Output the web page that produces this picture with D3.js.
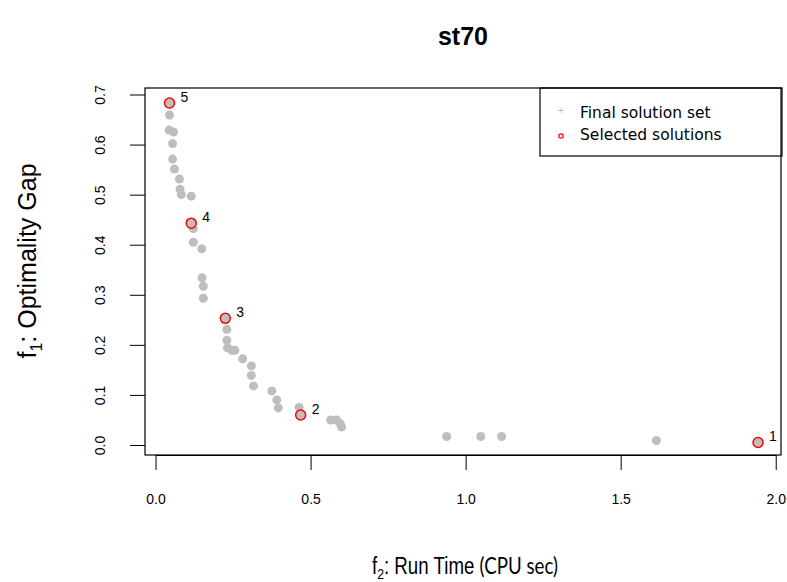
<!DOCTYPE html>
<svg width="787" height="582"></svg>
<script src="https://d3js.org/d3.v7.min.js"></script>
<style>
  body { margin: 0; background: #fff; }
  text { font-family: "Liberation Sans", Arial, sans-serif; }
  .box { fill: none; stroke: #000; stroke-width: 1.2px; }
</style>
<script>
// final solution set (f2 = run time, f1 = optimality gap)
var runTime = [0.045, 0.045, 0.044, 0.058, 0.055, 0.055, 0.061, 0.077, 0.079, 0.083, 0.115,
               0.115, 0.122, 0.122, 0.149, 0.150, 0.154, 0.154, 0.225, 0.230, 0.230, 0.232,
               0.246, 0.256, 0.281, 0.309, 0.309, 0.316, 0.375, 0.391, 0.396, 0.463, 0.468,
               0.565, 0.584, 0.595, 0.600, 0.939, 1.049, 1.116, 1.615, 1.943];
var optGap = [0.683, 0.659, 0.629, 0.625, 0.602, 0.571, 0.551, 0.531, 0.511, 0.500, 0.497,
              0.443, 0.432, 0.405, 0.392, 0.334, 0.317, 0.293, 0.253, 0.231, 0.209, 0.194,
              0.189, 0.189, 0.172, 0.158, 0.139, 0.118, 0.108, 0.090, 0.074, 0.075, 0.060,
              0.050, 0.050, 0.043, 0.036, 0.017, 0.017, 0.017, 0.009, 0.005];

// selected solutions
var selRunTime = [1.943, 0.468, 0.225, 0.115, 0.045];
var selOptGap  = [0.005, 0.060, 0.253, 0.443, 0.683];
var selLabels  = ["1", "2", "3", "4", "5"];

var xTicks = [0, 0.5, 1, 1.5, 2];
var yTicks = [0, 0.1, 0.2, 0.3, 0.4, 0.5, 0.6, 0.7];

var svg = d3.select("svg"),
    margin = {top: 88, right: 6, bottom: 127, left: 145},
    width = +svg.attr("width") - margin.left - margin.right,
    height = +svg.attr("height") - margin.top - margin.bottom,
    g = svg.append("g").attr("transform", "translate(" + margin.left + "," + margin.top + ")");

var x = d3.scaleLinear().domain([-0.034, 2.017]).range([0, width]);
var y = d3.scaleLinear().domain([-0.02, 0.713]).range([height, 0]);

// axes, R style: ticks outside, labels away from the box
var xAxis = g.append("g")
    .attr("transform", "translate(0," + height + ")")
    .call(d3.axisBottom(x).tickValues(xTicks).tickFormat(d3.format(".1f")).tickSize(15).tickPadding(24));
xAxis.select(".domain").attr("d", "M" + x(0) + ",0.5H" + x(2));
xAxis.selectAll("text").style("font-size", "14px").attr("fill", "#000");

var yAxis = g.append("g")
    .call(d3.axisLeft(y).tickValues(yTicks).tickFormat(d3.format(".1f")).tickSize(15).tickPadding(0));
yAxis.select(".domain").remove();
yAxis.selectAll("text")
    .style("font-size", "14px")
    .attr("fill", "#000")
    .attr("text-anchor", "middle")
    .attr("x", null).attr("dy", null)
    .attr("transform", "translate(-45,0) rotate(-90)")
    .attr("y", 5);

g.append("rect").attr("class", "box").attr("width", width).attr("height", height);

// final solution set
g.append("g").selectAll("circle")
    .data(runTime.map(function(d, i) { return [d, optGap[i]]; }))
  .enter().append("circle")
    .attr("cx", function(d) { return x(d[0]); })
    .attr("cy", function(d) { return y(d[1]); })
    .attr("r", 4.5)
    .attr("fill", "#bebebe");

// selected
var sel = g.append("g").selectAll("g")
    .data(selRunTime.map(function(d, i) { return {x: d, y: selOptGap[i], label: selLabels[i]}; }))
  .enter().append("g");

sel.append("circle")
    .attr("cx", function(d) { return x(d.x); })
    .attr("cy", function(d) { return y(d.y); })
    .attr("r", 5)
    .attr("fill", "#bebebe")
    .attr("stroke", "#ff0000")
    .attr("stroke-width", 1.5);

sel.append("text")
    .attr("x", function(d) { return x(d.x) + 11; })
    .attr("y", function(d) { return y(d.y) - 1; })
    .style("font-size", "14px")
    .text(function(d) { return d.label; });

// legend
var legend = g.append("g").attr("transform", "translate(" + (540 - margin.left) + ",0)");
legend.append("rect").attr("class", "box").attr("width", 242).attr("height", 68);
legend.append("text")
    .attr("x", 21).attr("y", 26)
    .attr("text-anchor", "middle")
    .attr("fill", "#bebebe")
    .style("font-size", "11px")
    .text("+");
legend.append("circle")
    .attr("cx", 21).attr("cy", 48).attr("r", 2.2)
    .attr("fill", "none").attr("stroke", "#ff0000").attr("stroke-width", 1.2);
legend.selectAll(".lbl")
    .data(["Final solution set", "Selected solutions"])
  .enter().append("text")
    .attr("x", 40)
    .attr("y", function(d, i) { return 30 + i * 22; })
    .style("font-family", "'DejaVu Sans', Verdana, sans-serif")
    .style("font-size", "15.5px")
    .text(function(d) { return d; });

// title
svg.append("text")
    .attr("x", 463).attr("y", 45)
    .attr("text-anchor", "middle")
    .style("font-size", "25px").style("font-weight", "bold")
    .text("st70");

// x title
var xt = svg.append("text")
    .attr("x", 465).attr("y", 574)
    .attr("text-anchor", "middle")
    .attr("textLength", 186)
    .attr("lengthAdjust", "spacingAndGlyphs")
    .style("font-size", "23px");
xt.append("tspan").text("f");
xt.append("tspan").style("font-size", "15px").attr("dy", 5).text("2");
xt.append("tspan").attr("dy", -5).text(": Run Time ");
xt.append("tspan").style("font-family", "Lato, 'Open Sans', sans-serif").text("(CPU sec)");

// y title
var yt = svg.append("text")
    .attr("transform", "translate(36,261) rotate(-90)")
    .attr("text-anchor", "middle")
    .style("font-size", "25px");
yt.append("tspan").text("f");
yt.append("tspan").style("font-size", "16px").attr("dy", 6).text("1");
yt.append("tspan").attr("dy", -6).text(": Optimality Gap");
</script>
